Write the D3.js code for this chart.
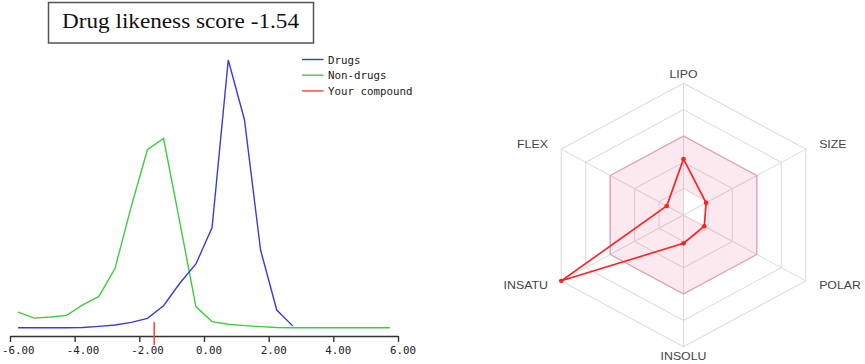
<!DOCTYPE html>
<html>
<head>
<meta charset="utf-8">
<script src="https://cdn.jsdelivr.net/npm/d3@7"></script>
<style>
  body { margin: 0; background: #fff; }
  svg { display: block; }
</style>
</head>
<body>
<svg id="chart" width="865" height="364"></svg>
<script>

// ---- drug likeness distribution ----
var compoundScore = -1.54;
var scoreBins = [-5.75, -5.25, -4.75, -4.25, -3.75, -3.25, -2.75, -2.25, -1.75, -1.25, -0.75, -0.25,
                 0.25, 0.75, 1.25, 1.75, 2.25, 2.75, 3.25, 3.75, 4.25, 4.75, 5.25, 5.75];
var drugs    = [0.001, 0.001, 0.001, 0.001, 0.002, 0.006, 0.011, 0.021, 0.036, 0.083, 0.167, 0.239,
                0.375, 1.0, 0.778, 0.291, 0.067, 0.007, null, null, null, null, null, null];
var nonDrugs = [0.059, 0.037, 0.041, 0.047, 0.086, 0.118, 0.223, 0.453, 0.665, 0.707, 0.396, 0.08,
                0.024, 0.014, 0.009, 0.005, 0.002, 0.001, 0.001, 0.001, 0.001, 0.001, 0.001, 0.001];
var seriesNames = ["Drugs", "Non-drugs", "Your compound"];
var seriesColors = ["#3b3bd4", "#3fcc3f", "#ff3b3b"];
var scoreTicks = [-6, -4, -2, 0, 2, 4, 6];

// ---- bioavailability radar ----
var radarAxes = ["LIPO", "SIZE", "POLAR", "INSOLU", "INSATU", "FLEX"];
var radarValues = [0.425, 0.185, 0.17, 0.215, 1.0, 0.137];
var optimalLow  = [0.2, 0.2, 0.2, 0, 0, 0];
var optimalHigh = [0.6, 0.6, 0.6, 0.6, 0.6, 0.6];
var radarRings = [0.2, 0.4, 0.6, 0.8, 1.0];

var svg = d3.select("#chart");

// title box
var title = svg.append("g");
title.append("rect")
  .attr("x", 48.5).attr("y", 2.5)
  .attr("width", 265).attr("height", 40.5)
  .attr("fill", "#fff")
  .attr("stroke", "#555")
  .attr("stroke-width", 1.5);
title.append("text")
  .attr("x", 62).attr("y", 28)
  .attr("textLength", 237)
  .attr("lengthAdjust", "spacingAndGlyphs")
  .style("font-family", "'Liberation Serif', serif")
  .style("font-size", "21px")
  .attr("fill", "#111")
  .text("Drug likeness score " + compoundScore.toFixed(2));

var x = d3.scaleLinear().domain([-6, 6]).range([10, 398]);
var y = d3.scaleLinear().domain([0, 1]).range([328, 60]);
var axisY = 336;

var xAxis = d3.axisBottom(x)
  .tickValues(scoreTicks)
  .tickFormat(function(d) { return d.toFixed(2); })
  .tickSize(6)
  .tickSizeOuter(0)
  .tickPadding(4);

var axisG = svg.append("g")
  .attr("transform", "translate(0," + axisY + ")")
  .call(xAxis);
axisG.select(".domain").attr("stroke", "#333").attr("stroke-width", 1.4);
axisG.selectAll(".tick line").attr("stroke", "#333").attr("stroke-width", 1.4);
// labels hang left-aligned just before their tick, like the original
axisG.selectAll("text")
  .attr("text-anchor", "start")
  .attr("dx", -8.5)
  .style("font-family", "'DejaVu Sans Mono', monospace")
  .style("font-size", "10.8px")
  .attr("fill", "#222");

var line = d3.line()
  .defined(function(d) { return d[1] != null; })
  .x(function(d) { return x(d[0]); })
  .y(function(d) { return y(d[1]); });

[nonDrugs, drugs].forEach(function(series, k) {
  var pts = scoreBins.map(function(b, i) { return [b, series[i]]; });
  svg.append("path")
    .attr("d", line(pts))
    .attr("fill", "none")
    .attr("stroke", k == 0 ? seriesColors[1] : seriesColors[0])
    .attr("stroke-width", 1.4);
});

// compound marker
svg.append("line")
  .attr("x1", x(compoundScore)).attr("x2", x(compoundScore))
  .attr("y1", y(0) - 6).attr("y2", axisY + 9)
  .attr("stroke", seriesColors[2])
  .attr("stroke-width", 1.5);

// legend
var legend = svg.append("g").attr("transform", "translate(302,59.5)");
seriesNames.forEach(function(name, i) {
  var row = legend.append("g").attr("transform", "translate(0," + (i * 15.7) + ")");
  row.append("line")
    .attr("x1", 0).attr("x2", 21.5)
    .attr("stroke", seriesColors[i]).attr("stroke-width", 1.4);
  row.append("text")
    .attr("x", 26).attr("y", 4)
    .style("font-family", "'DejaVu Sans Mono', monospace")
    .style("font-size", "10.8px")
    .attr("fill", "#222")
    .text(name);
});

// ---- radar ----
var radar = svg.append("g").attr("transform", "translate(683.5,215) scale(1.072,1)");
var r = d3.scaleLinear().domain([0, 1]).range([0, 131.7]);
var angle = d3.scaleLinear().domain([0, radarAxes.length]).range([-Math.PI / 2, 1.5 * Math.PI]);

function pt(i, v) {
  return [r(v) * Math.cos(angle(i)), r(v) * Math.sin(angle(i))];
}
function ring(vals) {
  return "M" + vals.map(function(v, i) { return pt(i, v).join(","); }).join("L") + "Z";
}

radar.selectAll(".ring")
  .data(radarRings)
  .enter().append("path")
  .attr("class", "ring")
  .attr("d", function(v) { return ring(radarAxes.map(function() { return v; })); })
  .attr("fill", "none")
  .attr("stroke", "#dcdcde")
  .attr("stroke-width", 1);

radar.selectAll(".spoke")
  .data(radarAxes)
  .enter().append("line")
  .attr("class", "spoke")
  .attr("x1", 0).attr("y1", 0)
  .attr("x2", function(d, i) { return pt(i, 1)[0]; })
  .attr("y2", function(d, i) { return pt(i, 1)[1]; })
  .attr("stroke", "#dcdcde")
  .attr("stroke-width", 1);

// optimal range band
radar.append("path")
  .attr("d", ring(optimalHigh) + ring(optimalLow))
  .attr("fill-rule", "evenodd")
  .attr("fill", "rgba(235,80,130,0.13)");
radar.append("path")
  .attr("d", ring(optimalHigh))
  .attr("fill", "none")
  .attr("stroke", "rgba(215,110,140,0.5)")
  .attr("stroke-width", 1.2);

// compound polygon
radar.append("path")
  .attr("d", ring(radarValues))
  .attr("fill", "none")
  .attr("stroke", "#ff2020")
  .attr("stroke-width", 1.6)
  .attr("stroke-linejoin", "round");
radar.selectAll(".dot")
  .data(radarValues)
  .enter().append("circle")
  .attr("class", "dot")
  .attr("cx", function(v, i) { return pt(i, v)[0]; })
  .attr("cy", function(v, i) { return pt(i, v)[1]; })
  .attr("r", 2.2)
  .attr("fill", "#ff2020");

// axis labels
radar.selectAll(".lbl")
  .data(radarAxes)
  .enter().append("text")
  .attr("class", "lbl")
  .attr("x", function(d, i) { return pt(i, 1.07)[0]; })
  .attr("y", function(d, i) { return pt(i, 1.07)[1]; })
  .attr("dx", function(d, i) {
    var c = Math.cos(angle(i));
    return c > 0.1 ? 4.5 : (c < -0.1 ? -4.5 : 0);
  })
  .attr("dominant-baseline", "central")
  .attr("text-anchor", function(d, i) {
    var c = Math.cos(angle(i));
    return c > 0.1 ? "start" : (c < -0.1 ? "end" : "middle");
  })
  .style("font-family", "'Liberation Sans', Arial, sans-serif")
  .style("font-size", "11.5px")
  .attr("fill", "#444")
  .text(function(d) { return d; });

</script>
</body>
</html>
